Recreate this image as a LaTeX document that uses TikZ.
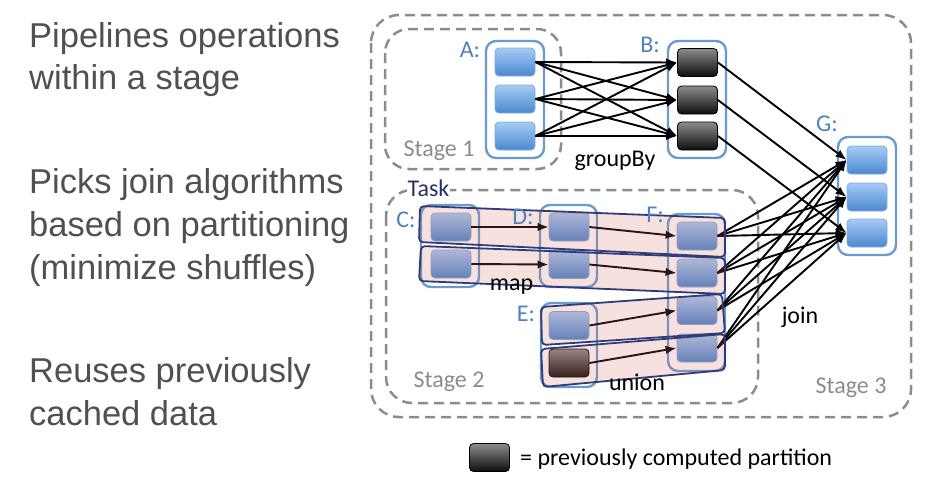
\documentclass[tikz,border=0pt]{standalone}
\usepackage{fontspec}
\setmainfont{Carlito}
\newfontfamily\leftfont{Liberation Sans}
\usepackage{tikz}
\usetikzlibrary{arrows.meta}
\usepackage{xcolor}
\definecolor{boxblue}{HTML}{6A9BD0}
\definecolor{lblblue}{HTML}{4F81BD}
\definecolor{celltop}{HTML}{A6CBF5}
\definecolor{cellbot}{HTML}{4A88D0}
\definecolor{darktop}{HTML}{8C8C8C}
\definecolor{darkbot}{HTML}{0D0D0D}
\definecolor{bandpink}{HTML}{D2695F}
\definecolor{bandnavy}{HTML}{2E3B78}
\definecolor{stagegray}{HTML}{8C8C8C}
\definecolor{textgray}{HTML}{505050}
\definecolor{tasknavy}{HTML}{27306B}

\begin{document}
\begin{tikzpicture}[x=1pt,y=-1pt,
    cell/.style={draw=cellbot!70!white, rounded corners=4pt, top color=celltop, bottom color=cellbot, minimum width=40pt, minimum height=28pt, inner sep=0pt, line width=0.8pt},
    dcell/.style={cell, draw=black, top color=darktop, bottom color=darkbot},
    cont/.style={draw=boxblue, line width=2.4pt, rounded corners=10pt, inner sep=0pt},
    stage/.style={draw=stagegray, line width=2.5pt, dash pattern=on 10pt off 6pt, rounded corners=28pt},
    band/.style={draw=bandnavy, line width=1.8pt, fill=bandpink, fill opacity=0.2, rounded corners=4pt},
    lbl/.style={text=lblblue, font=\fontsize{24}{28}\selectfont},
    stg/.style={text=stagegray, font=\fontsize{24}{28}\selectfont, anchor=base, inner sep=0pt},
    op/.style={font=\fontsize{24}{28}\selectfont, anchor=base, inner sep=0pt},
    side/.style={text=textgray, font=\leftfont\fontsize{34.5}{40}\selectfont, anchor=base west, inner sep=0pt},
    arr/.style={-{Latex[length=11pt,width=8.5pt]}, line width=1.9pt}]
    \useasboundingbox (0,0) rectangle (942,485);
    % texte de gauche
    \node[side] (p1) at (29,47) {Pipelines operations};
    \node[side] (p2) at (29,89) {within a stage};
    \node[side] (j1) at (29,193) {Picks join algorithms};
    \node[side] (j2) at (29,236) {based on partitioning};
    \node[side] (j3) at (29,279) {(minimize shuffles)};
    \node[side] (r1) at (29,382) {Reuses previously};
    \node[side] (r2) at (29,425) {cached data};
    % stages
    \draw[stage] (371,15) rectangle (911,417);
    \draw[stage, rounded corners=24pt] (385,29) rectangle (561,169);
    \draw[stage, rounded corners=26pt] (386,190) rectangle (758,403);
    % boites
    \node[cont, minimum width=58pt, minimum height=117pt] (Abox) at (515,99.5) {};
    \node[cont, minimum width=58pt, minimum height=117pt] (Bbox) at (697,99.5) {};
    \node[cont, minimum width=58pt, minimum height=118pt] (Gbox) at (867,196) {};
    \node[cont, minimum width=58pt, minimum height=82pt] (Cbox) at (450,246) {};
    \node[cont, minimum width=57pt, minimum height=82pt] (Dbox) at (568.5,246) {};
    \node[cont, minimum width=56pt, minimum height=84pt] (Ebox) at (569,345) {};
    \node[cont, minimum width=57pt, minimum height=157pt] (Fbox) at (696.5,292.5) {};
    % partitions
    \node[cell] (A1) at (515,62) {};
    \node[cell] (A2) at (515,99) {};
    \node[cell] (A3) at (515,136) {};
    \node[dcell] (B1) at (697.5,62.5) {};
    \node[dcell] (B2) at (697.5,100) {};
    \node[dcell] (B3) at (697.5,136) {};
    \node[cell] (G1) at (867,160) {};
    \node[cell] (G2) at (867,197) {};
    \node[cell] (G3) at (867,233) {};
    \node[cell] (C1) at (451,227) {};
    \node[cell] (C2) at (451,264) {};
    \node[cell] (D1) at (569,227) {};
    \node[cell] (D2) at (569,264.5) {};
    \node[cell] (E1) at (569,325.5) {};
    \node[dcell] (E2) at (569,363) {};
    \node[cell] (F1) at (697,236) {};
    \node[cell] (F2) at (697,273) {};
    \node[cell] (F3) at (697,310.5) {};
    \node[cell] (F4) at (697,348) {};
    % fleches
\begin{scope}[arr]
    \foreach \i in {1,2,3}
        \foreach \j in {1,2,3}
            \draw (A\i.east) -- (B\j.west);
    \foreach \i in {1,2,3}
        \draw (B\i.east) -- (G\i.west);
    \foreach \i in {1,2,3,4}
        \foreach \j in {1,2,3}
            \draw (F\i.east) -- (G\j.west);
    \draw (C1.east) -- (D1.west);
    \draw (C2.east) -- (D2.west);
    \draw (D1.east) -- (F1.west);
    \draw (D2.east) -- (F2.west);
    \draw (E1.east) -- (F3.west);
    \draw (E2.east) -- (F4.west);
\end{scope}
    % taches
    \draw[band] (420,206) -- (725,218) -- (725,257) -- (419,242) -- cycle;
    \draw[band] (421,246) -- (725,258) -- (725,294) -- (419,281) -- cycle;
    \draw[band] (541,307) -- (722,294) -- (725,333) -- (542,345) -- cycle;
    \draw[band] (541,349) -- (725,334) -- (725,370) -- (543,387) -- cycle;
    % etiquettes
    \node[lbl] (Alab) at (470,49.5) {A:};
    \node[lbl] (Blab) at (650,44.5) {B:};
    \node[lbl] (Glab) at (827,123.5) {G:};
    \node[lbl] (Clab) at (406,219.5) {C:};
    \node[lbl] (Dlab) at (523,217) {D:};
    \node[lbl] (Flab) at (655,214.5) {F:};
    \node[lbl] (Elab) at (526,313.5) {E:};
    \node[stg] (s1) at (439,156) {Stage 1};
    \node[stg] (s2) at (449,387) {Stage 2};
    \node[stg] (s3) at (851,393) {Stage 3};
    \node[op, text=tasknavy, fill=white, inner sep=1pt] (task) at (428.5,196) {Task};
    \node[op] (grp) at (615,166) {groupBy};
    \node[op] (map) at (511.5,290) {map};
    \node[op] (uni) at (637,390) {union};
    \node[op] (join) at (800,323) {join};
    % legende
    \node[dcell] (key) at (489.5,457.5) {};
    \node[op, anchor=base west] (keytxt) at (520,465) {= previously computed partition};
\end{tikzpicture}
\end{document}
